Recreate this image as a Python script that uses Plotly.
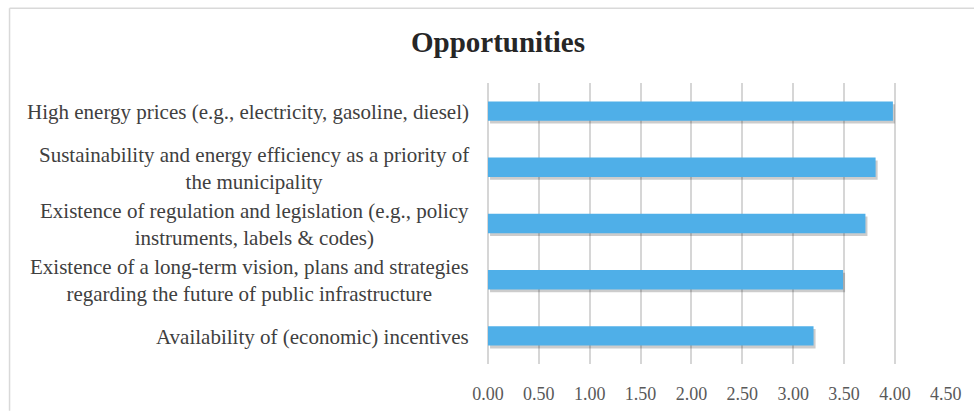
import plotly.graph_objects as go

categories = [
    "High energy prices (e.g., electricity, gasoline, diesel)",
    "Sustainability and energy efficiency as a priority of<br>the municipality",
    "Existence of regulation and legislation (e.g., policy<br>instruments, labels & codes)",
    "Existence of a long-term vision, plans and strategies<br>regarding the future of public infrastructure",
    "Availability of (economic) incentives",
]
cat_ids = ["c1", "c2", "c3", "c4", "c5"]
values = [3.98, 3.81, 3.71, 3.49, 3.20]
tick_vals = [0, 0.5, 1.0, 1.5, 2.0, 2.5, 3.0, 3.5, 4.0, 4.5]
tick_text = ["0.00", "0.50", "1.00", "1.50", "2.00", "2.50", "3.00", "3.50", "4.00", "4.50"]
title_text = "Opportunities"

W, H = 974, 416
L, R, T, B = 488, 27, 83, 44
bar_w = 0.345
serif = "Liberation Serif, Times New Roman, serif"
PW, PH = W - L - R, H - T - B

fig = go.Figure()
# soft drop shadow
fig.add_trace(go.Bar(
    y=cat_ids, x=values, base=0.02, orientation="h",
    width=bar_w, offset=-bar_w / 2 + 0.05,
    marker=dict(color="rgba(0,0,0,0.2)", line=dict(width=0)),
    hoverinfo="skip", showlegend=False,
))
fig.add_trace(go.Bar(
    y=cat_ids, x=values, orientation="h",
    width=bar_w, offset=-bar_w / 2,
    marker=dict(color="#4FAFE8", line=dict(width=0)),
    showlegend=False,
))

for cid, label in zip(cat_ids, categories):
    fig.add_annotation(
        x=0, xref="paper", y=cid, yref="y",
        text=label, showarrow=False,
        xanchor="right", yanchor="middle", align="center",
        xshift=-17, yshift=-1,
        font=dict(family=serif, size=21, color="#404040"),
    )

# outer chart frame (left and top edges visible in the crop)
fx0 = (8.5 - L) / PW
fx1 = (W + 2 - L) / PW
fy_top = 1 + (T - 6) / PH
fy_bot = -(B + 4) / PH
frame = dict(color="#D9D9D9", width=1.5)
fig.add_shape(type="line", xref="paper", yref="paper",
              x0=fx0, x1=fx0, y0=fy_bot, y1=fy_top, line=frame)
fig.add_shape(type="line", xref="paper", yref="paper",
              x0=fx0, x1=fx1, y0=fy_top, y1=fy_top, line=frame)

fig.update_layout(
    width=W, height=H,
    margin=dict(l=L, r=R, t=T, b=B, pad=0),
    paper_bgcolor="white", plot_bgcolor="white",
    barmode="overlay",
    title=dict(text="<b>" + title_text + "</b>", x=498 / W, xanchor="center",
               y=1 - 42 / H, yanchor="middle", xref="container", yref="container",
               font=dict(family=serif, size=29, color="#262626")),
    xaxis=dict(range=[0, 4.502], tickvals=tick_vals, ticktext=tick_text,
               showgrid=True, gridcolor="#D6D6D6", gridwidth=1.5,
               zeroline=True, zerolinecolor="#D6D6D6", zerolinewidth=1.5,
               showline=False, ticks="", ticklabelstandoff=17,
               tickfont=dict(family=serif, size=18, color="#595959")),
    yaxis=dict(categoryorder="array", categoryarray=cat_ids, autorange="reversed",
               showticklabels=False, showgrid=False, zeroline=False, showline=False),
)

fig.write_html("out.html", config={"displayModeBar": False},
               post_script="document.body.style.margin='0';")
